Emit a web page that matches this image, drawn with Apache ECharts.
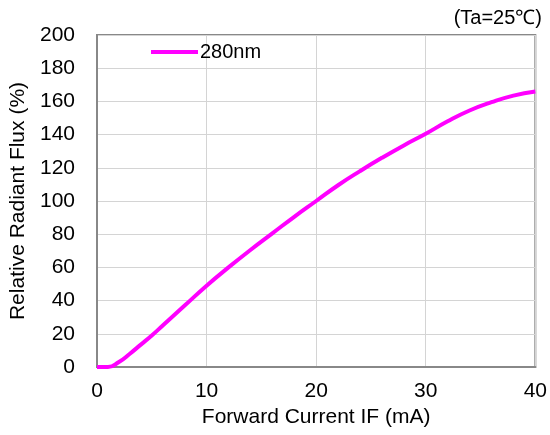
<!DOCTYPE html>
<html>
<head>
<meta charset="utf-8">
<script src="https://cdn.jsdelivr.net/npm/echarts@6/dist/echarts.min.js"></script>
<style>html,body{margin:0;padding:0;background:#fff}#c{width:550px;height:435px}</style>
</head>
<body>
<div id="c"></div>
<script>
const currents = [0,1,2,3,4,5,6,8,10,12,14,16,18,20,22,24,26,28,30,32,34,36,38,40];
const flux280 = [0,0,3,8,13.5,19,25,37,49,60,70.5,80.5,90.5,100,109.5,118,126,133.5,140.5,148,154.5,159.5,163.5,166];
const seriesName = '280nm';
const xTicks = [0,10,20,30,40];
const yTicks = [0,20,40,60,80,100,120,140,160,180,200];

const font = 'Liberation Sans, Arial, sans-serif';
const chart = echarts.init(document.getElementById('c'));
chart.setOption({
  animation: false,
  backgroundColor: '#fff',
  title: {
    text: '(Ta=25℃)', right: 3, top: 3,
    textStyle: {fontFamily: font, fontSize: 20, fontWeight: 'normal', color: '#000'}
  },
  legend: {
    left: 146, top: 37, icon: 'rect', itemWidth: 47, itemHeight: 4, itemGap: 5,
    data: [seriesName],
    textStyle: {fontFamily: font, fontSize: 20, color: '#000', padding: [0,0,0,-3]}
  },
  grid: {left: 97, right: 10, top: 35, bottom: 68, show: true, borderColor: '#888', borderWidth: 2},
  xAxis: {
    type: 'value', min: xTicks[0], max: xTicks[xTicks.length-1], interval: 10,
    name: 'Forward Current IF (mA)', nameLocation: 'middle', nameGap: 33,
    nameTextStyle: {fontFamily: font, fontSize: 21, color: '#000'},
    axisLine: {show: true, lineStyle: {color: '#888', width: 2}},
    axisTick: {show: false},
    axisLabel: {fontFamily: font, fontSize: 21, color: '#000', margin: 14},
    splitLine: {show: true, lineStyle: {color: '#d4d4d4', width: 1}}
  },
  yAxis: {
    type: 'value', min: yTicks[0], max: yTicks[yTicks.length-1], interval: 20,
    name: 'Relative Radiant Flux (%)', nameLocation: 'middle', nameGap: 68,
    nameTextStyle: {fontFamily: font, fontSize: 21, color: '#000'},
    axisLine: {show: true, lineStyle: {color: '#888', width: 2}},
    axisTick: {show: false},
    axisLabel: {fontFamily: font, fontSize: 21, color: '#000', margin: 22},
    splitLine: {show: true, lineStyle: {color: '#d4d4d4', width: 1}}
  },
  series: [{
    name: seriesName, type: 'line', smooth: 0.5, symbol: 'none',
    data: currents.map((x,i)=>[x, flux280[i]]),
    lineStyle: {color: '#ff00ff', width: 4},
    itemStyle: {color: '#ff00ff'}
  }]
});
</script>
</body>
</html>
